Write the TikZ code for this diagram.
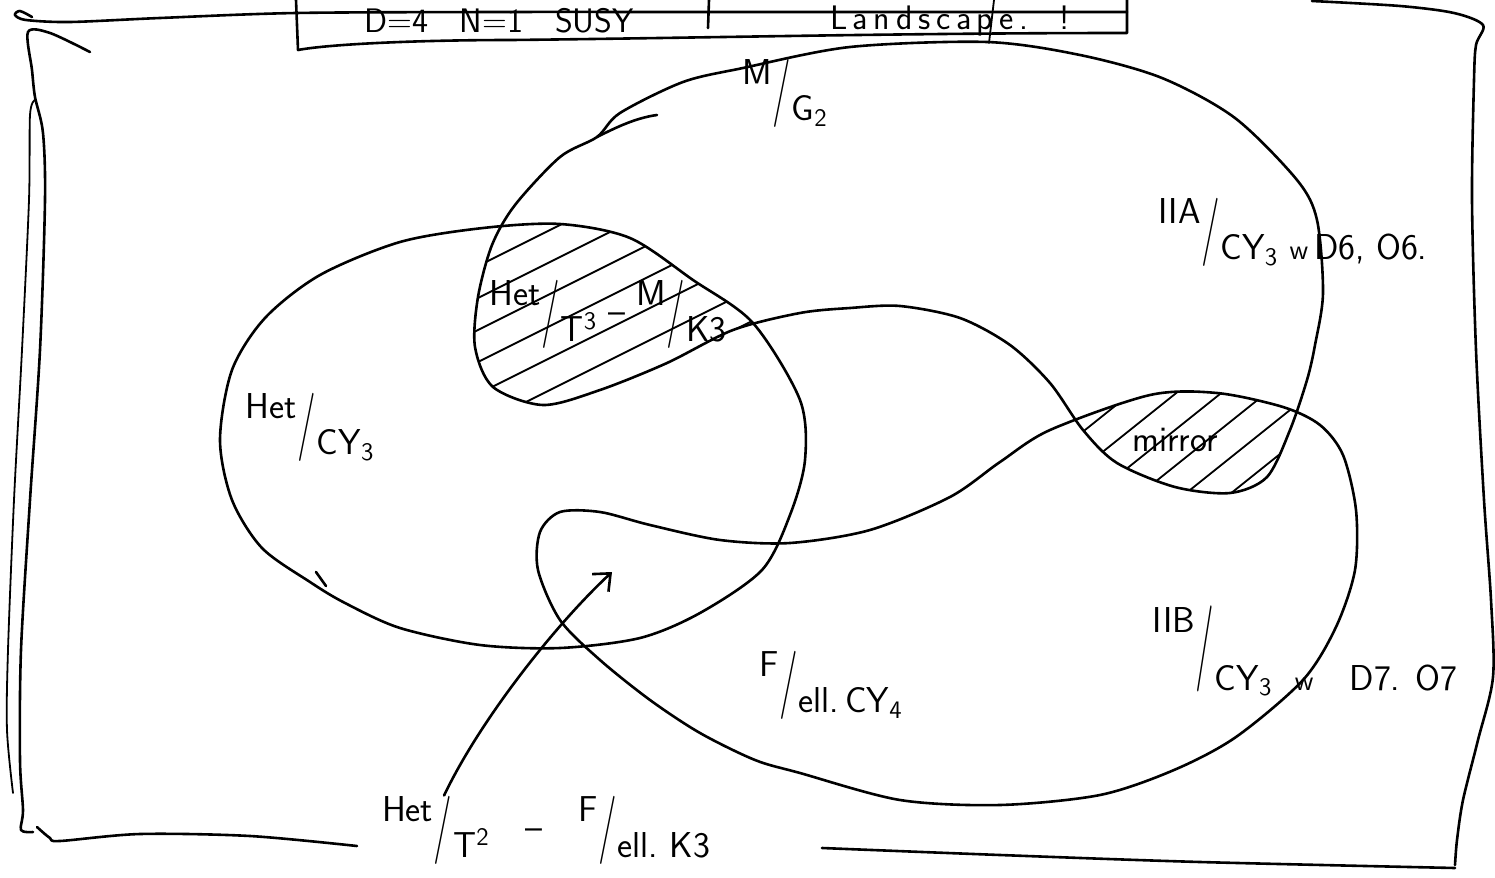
\documentclass[tikz,border=0pt]{standalone}
\usepackage{fontspec}
\usepackage{graphicx}
\usetikzlibrary{arrows.meta,calc}
\newcommand{\myfrac}[2]{\raisebox{0.5em}{#1}\kern0.02em\raisebox{-0.2em}{\scalebox{1.1}[1.9]{/}}\kern0.02em\raisebox{-0.5em}{#2}}
\newcommand{\myfracw}[2]{\raisebox{0.8em}{#1}\kern0.02em\raisebox{-0.25em}{\scalebox{1.1}[2.4]{/}}\kern0.02em\raisebox{-0.8em}{#2}}
\newcommand{\smw}{{\fontsize{14}{16}\selectfont w}}
\tikzset{
  ink/.style={line width=1.3pt, line cap=round, line join=round},
  thinink/.style={line width=0.9pt, line cap=round},
  hatchline/.style={line width=0.9pt, line cap=round},
  lbl/.style={font=\sffamily\fontsize{18}{22}\selectfont, inner sep=0pt},
  ttl/.style={font=\sffamily\fontsize{17}{20}\selectfont, inner sep=0pt},
  arr/.style={ink, -{Straight Barb[length=7pt,width=12pt,line width=1.3pt]}}
}
\def\mgpath{plot[smooth cycle] coordinates {(597,137) (620,113) (683,82) (743,68) (850,47) (987,42) (1080,55) (1162,78) (1235,118) (1297,180) (1317,220) (1323,293) (1315,345) (1307,380) (1290,430) (1267,477) (1230,493) (1175,487) (1117,463) (1083,430) (1050,383) (1010,345) (960,318) (900,306) (850,308) (800,313) (733,330) (667,363) (600,390) (543,405) (493,387) (475,347) (478,297) (492,245) (515,205) (560,157)}}
\def\hetpath{plot[smooth cycle] coordinates {(310,582) (262,548) (232,500) (220,440) (232,370) (265,318) (320,275) (400,242) (483,228) (560,224) (630,238) (693,280) (753,323) (800,400) (805,460) (790,515) (762,570) (700,613) (640,638) (560,648) (480,645) (400,628) (345,603)}}
\def\fpath{plot[smooth cycle] coordinates {(1050,430) (1150,395) (1217,393) (1283,407) (1320,425) (1343,455) (1356,510) (1355,570) (1336,627) (1303,680) (1236,737) (1174,770) (1100,795) (1000,805) (900,800) (800,773) (755,760) (700,733) (650,700) (600,660) (560,620) (538,570) (540,532) (560,512) (600,512) (650,525) (720,540) (790,543) (870,530) (950,497) (1000,462)}}
\begin{document}
\begin{tikzpicture}[x=0.5pt,y=-0.5pt]
\useasboundingbox (0,0) rectangle (1495,878);

% outer hand-drawn frame
\draw[ink] plot[smooth] coordinates {(32,17) (20,11) (15,15) (26,20) (70,22) (160,18) (296,13) (500,12) (713,12) (1127,12)};
\draw[ink] plot[smooth] coordinates {(1312,1) (1400,6) (1454,13) (1483,25) (1476,45) (1474,80) (1472,200) (1476,350) (1484,500) (1491,600) (1493,677) (1478,740) (1463,800) (1457,840) (1455,865)};
\draw[ink] plot[smooth] coordinates {(822,848) (1000,855) (1200,862) (1455,868)};
\draw[ink] plot[smooth] coordinates {(37,827) (50,838) (60,841) (140,834) (250,836) (357,846)};
\draw[ink] plot[smooth] coordinates {(90,52) (50,33) (28,32) (32,70) (35,97) (43,133) (45,200) (40,350) (30,500) (21,650) (20,760) (23,810) (21,830) (33,832)};
\draw[thinink] plot[smooth] coordinates {(35,100) (30,115) (29,200) (22,350) (14,500) (8,650) (7,730) (13,793)};

% title box
\draw[ink] (296,0) -- (298,50) .. controls (330,44) and (420,40) .. (512,40) .. controls (700,38) and (900,33) .. (1127,33) -- (1127,0);
\draw[ink] (709,0) -- (708,28);
\draw[thinink] (994,0) -- (989,43);
\node[ttl] (title1) at (499,21) {D=4\ \ \ N=1\ \ \ SUSY};
\node[ttl] (title2) at (950,21) {L\,a\,n\,d\,s\,c\,a\,p\,e\,.\ \ \ !};

% hatching of the overlaps
\begin{scope}
  \clip \mgpath;
  \clip \hetpath;
  \foreach \c in {270,302,...,560} \draw[hatchline] (470,\c) -- ++(300,-150);
\end{scope}
\begin{scope}
  \clip \mgpath;
  \clip \fpath;
  \foreach \c in {430,466,...,682} \draw[hatchline] (1040,\c) -- ++(300,-240);
\end{scope}

% the three regions
\draw[ink] \mgpath;
\draw[ink] (597,137) .. controls (615,128) and (635,118) .. (657,115);
\draw[ink] \hetpath;
\draw[ink] (316,572) -- (326,586);
\draw[ink] \fpath;

% labels
\node[lbl] (mg2) at (785,93) {\raisebox{0.15em}{\myfrac{M}{G\textsubscript{2}}}};
\node[lbl] (iia) at (1293,232) {\myfrac{IIA}{CY\textsubscript{3} \smw\,D6, O6.}};
\node[lbl] (hett3) at (608,314) {\myfrac{Het}{T\textsuperscript{3}}\ --\ \myfrac{M}{K3}};
\node[lbl] (hetcy) at (310,427) {\myfrac{Het}{CY\textsubscript{3}}};
\node[lbl] (mirror) at (1175,440) {mirror};
\node[lbl] (iib) at (1305,651) {\myfracw{IIB}{CY\textsubscript{3}\ \ \smw\quad D7. O7}};
\node[lbl] (fcy4) at (831,685) {\myfrac{F}{ell.\,CY\textsubscript{4}}};
\node[lbl] (bot) at (546,830) {\myfrac{Het}{T\textsuperscript{2}}\quad--\quad\myfrac{F}{ell.\ K3}};

% arrow
\coordinate (astart) at ($(bot.north west)!0.19!(bot.north east)$);
\coordinate (atip) at (612,572);
\draw[arr] (astart) .. controls (480,720) and (555,625) .. (atip);
\end{tikzpicture}
\end{document}
